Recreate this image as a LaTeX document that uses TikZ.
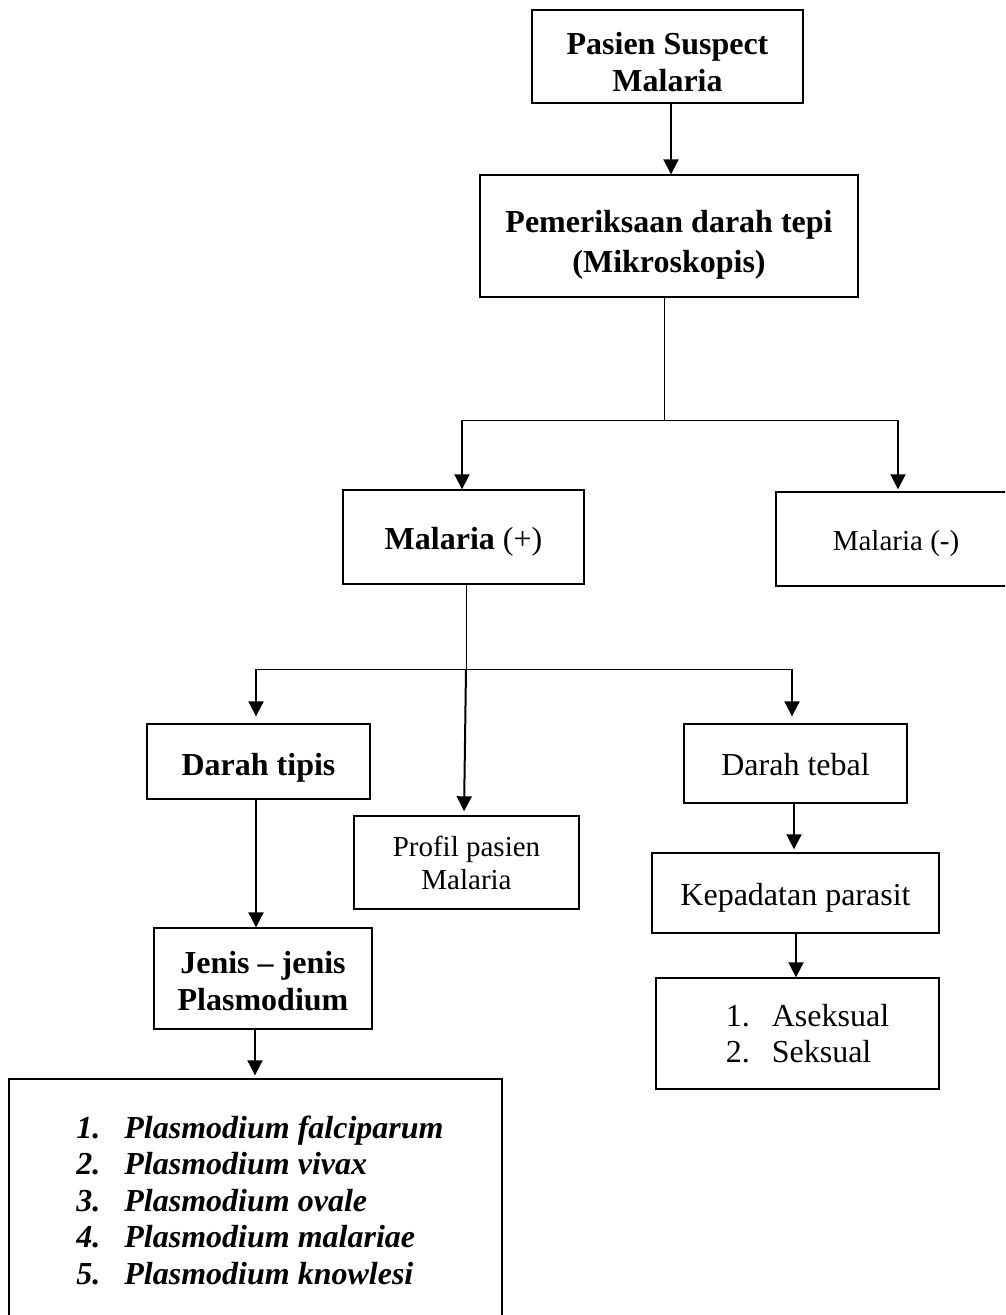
\documentclass[tikz,border=0pt]{standalone}
\usepackage{fontspec}
\setmainfont{Liberation Serif}
\usetikzlibrary{arrows.meta}
\newcommand{\lowr}[2]{\raisebox{-#1}[\height][\depth]{#2}}
\newcommand{\twol}[2]{\begin{tabular}{@{}c@{}}#1\\#2\end{tabular}}
\begin{document}
\begin{tikzpicture}[x=1pt,y=-1pt,
  box/.style={draw,line width=1.4pt,inner sep=0pt,align=center,font=\fontsize{32}{37}\selectfont},
  boldbox/.style={box,font=\fontsize{32}{37}\selectfont\bfseries},
  smallbox/.style={box,font=\fontsize{29}{33}\selectfont},
  arr/.style={line width=2pt,-{Triangle[width=15pt,length=15pt]}},
  thinline/.style={line width=1pt}]
\useasboundingbox (0,0) rectangle (1005,1315);
\fill[white] (0,0) rectangle (1005,1315);
\clip (0,0) rectangle (1005,1315);

% nodes
\node[boldbox,minimum width=271pt,minimum height=93pt] (n1) at (667.5,56.5) {\lowr{9pt}{\twol{Pasien Suspect}{Malaria}}};
\node[box,font=\fontsize{32}{40}\selectfont\bfseries,minimum width=378pt,minimum height=122pt] (n2) at (669,236) {\lowr{8pt}{\twol{Pemeriksaan darah tepi}{(Mikroskopis)}}};
\node[box,minimum width=241pt,minimum height=94pt] (pos) at (463.5,537) {\lowr{5pt}{\textbf{Malaria} (+)}};
\node[smallbox,minimum width=240pt,minimum height=94pt] (neg) at (896,539) {\lowr{5pt}{Malaria (-)}};
\node[boldbox,minimum width=223pt,minimum height=75pt] (tipis) at (258.5,761.5) {\lowr{6pt}{Darah tipis}};
\node[smallbox,minimum width=225pt,minimum height=93pt] (profil) at (466.5,862.5) {\lowr{4pt}{\twol{Profil pasien}{Malaria}}};
\node[box,minimum width=223pt,minimum height=79pt] (tebal) at (795.5,763.5) {\lowr{1pt}{Darah tebal}};
\node[box,minimum width=287pt,minimum height=80pt] (kep) at (795.5,893) {\lowr{5pt}{Kepadatan parasit}};
\node[box,font=\fontsize{32}{36}\selectfont,align=left,minimum width=283pt,minimum height=111pt] (sex) at (797.5,1033.5)
  {\hspace*{20pt}\makebox[46pt][l]{1.}Aseksual\\\hspace*{20pt}\makebox[46pt][l]{2.}Seksual};
\node[boldbox,minimum width=218pt,minimum height=101pt] (jenis) at (263,978.5) {\lowr{6.5pt}{\twol{Jenis -- jenis}{Plasmodium}}};
\node[box,font=\fontsize{32}{36.5}\selectfont\bfseries\itshape,align=left,minimum width=493pt,minimum height=242pt] (big) at (255.5,1200)
  {\hspace*{9pt}\makebox[48pt][l]{1.}Plasmodium falciparum\\
   \hspace*{9pt}\makebox[48pt][l]{2.}Plasmodium vivax\\
   \hspace*{9pt}\makebox[48pt][l]{3.}Plasmodium ovale\\
   \hspace*{9pt}\makebox[48pt][l]{4.}Plasmodium malariae\\
   \hspace*{9pt}\makebox[48pt][l]{5.}Plasmodium knowlesi};

% connectors
\draw[arr] ([xshift=3.5pt]n1.south) -- ([xshift=2pt]n2.north);

\coordinate (j1) at (664,420);
\coordinate (jl) at (462,420);
\coordinate (jr) at (898,420);
\draw[thinline] ([xshift=-5pt]n2.south) -- (j1);
\draw[thinline] (jl) -- (jr);
\draw[arr] (jl) -- (jl |- pos.north);
\draw[arr,shorten >=2pt] (jr) -- (jr |- neg.north);

\coordinate (k) at (466,669);
\coordinate (kl) at (256,669);
\coordinate (kr) at (792,669);
\draw[thinline] ([xshift=2.5pt]pos.south) -- (k);
\draw[thinline] (kl) -- (kr);
\draw[arr,shorten >=7pt] (kl) -- (kl |- tipis.north);
\draw[arr,shorten >=7pt] (kr) -- (kr |- tebal.north);
\draw[arr,shorten >=4pt] (k) -- ([xshift=-2.5pt]profil.north);

\path ([xshift=-2.5pt]tipis.south) coordinate (t1);
\draw[arr] (t1) -- (t1 |- jenis.north);
\path ([xshift=-8pt]jenis.south) coordinate (t2);
\draw[arr,shorten >=3pt] (t2) -- (t2 |- big.north);
\path ([xshift=-1.5pt]tebal.south) coordinate (t3);
\draw[arr,shorten >=3pt] (t3) -- (t3 |- kep.north);
\path ([xshift=0.5pt]kep.south) coordinate (t4);
\draw[arr] (t4) -- (t4 |- sex.north);
\end{tikzpicture}
\end{document}
